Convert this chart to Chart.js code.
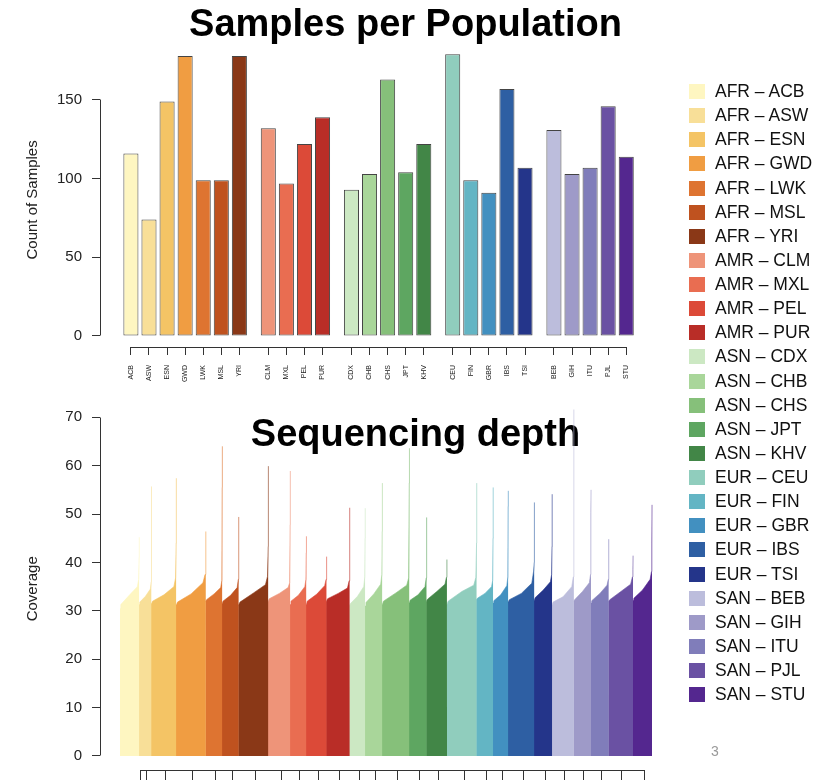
<!DOCTYPE html>
<html>
<head>
<meta charset="utf-8">
<title>Samples per Population</title>
<script src="https://cdn.jsdelivr.net/npm/chart.js@4.4.1/dist/chart.umd.min.js"></script>
<style>
  html, body { margin: 0; padding: 0; background: #fff; overflow: hidden; }
  #wrap { position: relative; width: 825px; height: 780px; font-family: "Liberation Sans", Arial, Helvetica, sans-serif; }
  canvas { position: absolute; left: 0; }
  #samplesChart { top: 0; }
  #depthChart { top: 390px; }
  #legend { position: absolute; left: 689px; top: 79px; margin: 0; padding: 0; list-style: none; }
  #legend li { height: 24.13px; line-height: 24.13px; font-size: 17.5px; color: #111; white-space: nowrap; }
  #legend .box { display: inline-block; width: 16px; height: 15px; vertical-align: -2px; margin-right: 10px; }
  #pageNo { position: absolute; left: 711px; top: 743px; font-size: 14px; color: #999; }
</style>
</head>
<body>
<div id="wrap">
  <canvas id="samplesChart" width="825" height="390"></canvas>
  <canvas id="depthChart" width="825" height="390"></canvas>
  <ul id="legend"></ul>
  <div id="pageNo">3</div>
</div>
<script>
// populations, in plotting order
var populations = ['ACB','ASW','ESN','GWD','LWK','MSL','YRI',
                   'CLM','MXL','PEL','PUR',
                   'CDX','CHB','CHS','JPT','KHV',
                   'CEU','FIN','GBR','IBS','TSI',
                   'BEB','GIH','ITU','PJL','STU'];
var regions = ['AFR','AFR','AFR','AFR','AFR','AFR','AFR',
               'AMR','AMR','AMR','AMR',
               'ASN','ASN','ASN','ASN','ASN',
               'EUR','EUR','EUR','EUR','EUR',
               'SAN','SAN','SAN','SAN','SAN'];
var sampleCounts = [116, 74, 149, 178, 99, 99, 178,
                    132, 97, 122, 139,
                    93, 103, 163, 104, 122,
                    179, 99, 91, 157, 107,
                    131, 103, 107, 146, 114];
var popColors = ['#FEF6C1','#F8DF98','#F4C465','#F09D42','#DE7431','#BF521F','#8A3817',
                 '#EE9479','#E96D51','#DC4A38','#B92D27',
                 '#CCE8C3','#A9D69A','#86C07A','#5EA661','#428647',
                 '#90CDBD','#63B5C4','#4290C0','#2E5FA3','#24358A',
                 '#BCBDDC','#9E9AC8','#807DBA','#6A51A3','#54278F'];

// sorted coverage per population, read at these fractions of the samples,
// then the next-to-last sample and the last (highest) sample
var depthFrac  = [0, 0.04, 0.5, 0.9, 0.97];
var depthStart = [30.5, 31.3, 31.5, 31.2, 31.8, 31.5, 31.0, 32.0, 31.3, 31.3, 31.8, 30.8, 31.0, 31.3, 31.6, 31.9, 30.9, 32.2, 31.6, 31.9, 32.2, 31.2, 31.9, 31.6, 31.9, 32.2];
var depthQ04   = [31.3, 31.8, 32.0, 31.8, 32.3, 32.0, 31.8, 32.5, 32.0, 32.0, 32.5, 31.5, 31.7, 32.0, 32.2, 32.4, 32.0, 32.6, 32.1, 32.3, 32.7, 31.8, 32.3, 32.1, 32.3, 32.6];
var depthMid   = [33.3, 33.0, 33.3, 33.5, 33.5, 33.2, 33.7, 33.6, 33.2, 33.4, 33.6, 33.0, 33.5, 33.7, 33.3, 34.0, 34.0, 33.6, 33.3, 33.6, 34.3, 32.9, 34.0, 33.6, 34.0, 34.3];
var depthP90   = [35.0, 34.5, 35.0, 35.8, 34.8, 34.8, 35.4, 34.8, 35.0, 35.2, 34.7, 35.0, 35.5, 35.3, 35.0, 35.5, 35.3, 35.0, 35.2, 35.7, 36.0, 35.0, 35.8, 35.3, 35.5, 36.5];
var depthP97   = [36.5, 36.0, 36.8, 37.5, 36.3, 36.5, 37.1, 35.8, 36.5, 36.5, 36.2, 37.0, 37.5, 36.8, 36.8, 36.9, 36.9, 36.3, 37.0, 38.2, 37.5, 37.0, 37.5, 36.5, 37.0, 38.1];
var depthNext  = [41.0, 42.5, 44.0, 43.0, 55.5, 44.7, 43.3, 47.8, 42.0, 38.5, 48.1, 45.0, 46.4, 56.4, 43.3, 38.5, 44.0, 45.0, 51.6, 40.0, 43.3, 47.0, 50.4, 40.5, 38.5, 44.0];
var depthMax   = [45.2, 55.7, 57.4, 46.4, 64.0, 49.4, 59.9, 58.9, 45.4, 41.2, 51.3, 51.2, 56.4, 63.6, 49.3, 40.6, 56.4, 55.5, 54.8, 52.4, 54.1, 71.6, 55.0, 44.8, 41.4, 51.9];

var countTicks = [0, 50, 100, 150];
var coverageTicks = [0, 10, 20, 30, 40, 50, 60, 70];
// bottom axis tick marks, in sample index units
var depthTicks = [125, 158, 274, 439, 575, 678, 817, 971, 1081, 1195, 1323, 1440, 1538,
                  1668, 1802, 1916, 2071, 2207, 2302, 2427, 2559, 2675, 2792, 2895, 3020, 3155];

var FONT = '"Liberation Sans", Arial, Helvetica, sans-serif';
Chart.defaults.font.family = FONT;
Chart.defaults.color = '#222';

// R style axis lines: only from first to last tick
var al = function (p) { return Math.round(p - 0.5) + 0.5; };
var rAxisLines = {
  id: 'rAxisLines',
  afterDraw: function (chart) {
    var ctx = chart.ctx, area = chart.chartArea, xs = chart.scales.x, ys = chart.scales.y;
    var xt = xs.ticks, yt = ys.ticks;
    ctx.save();
    ctx.strokeStyle = '#333';
    ctx.lineWidth = 1;
    ctx.beginPath();
    ctx.moveTo(al(area.left), al(ys.getPixelForValue(yt[0].value)));
    ctx.lineTo(al(area.left), al(ys.getPixelForValue(yt[yt.length - 1].value)));
    ctx.moveTo(al(xs.getPixelForValue(xt[0].value)), al(area.bottom));
    ctx.lineTo(al(xs.getPixelForValue(xt[xt.length - 1].value)), al(area.bottom));
    ctx.stroke();
    ctx.restore();
  }
};

// fixed axis sizes, no extra label padding around the plot area
function fixWidth(w) {
  return function (s) { s.width = w; s.paddingTop = 0; s.paddingBottom = 0; };
}
function fixHeight(h) {
  return function (s) { s.height = h; s.paddingLeft = 0; s.paddingRight = 0; };
}

// bar positions: one slot per population, extra gap between regions
var barX = [];
var grp = 0;
populations.forEach(function (p, i) {
  if (i > 0 && regions[i] !== regions[i - 1]) grp++;
  barX.push(i + 0.6 * grp);
});

var tickGrid = { display: true, offset: false, drawOnChartArea: false, drawTicks: true, tickLength: 8, color: '#333' };

var samplesChart = new Chart(document.getElementById('samplesChart'), {
  type: 'bar',
  data: {
    datasets: [{
      data: sampleCounts.map(function (v, i) { return { x: barX[i], y: v }; }),
      backgroundColor: popColors,
      borderColor: '#444',
      borderWidth: 1,
      borderSkipped: false,
      barPercentage: 0.833,
      categoryPercentage: 1.0
    }]
  },
  options: {
    responsive: false,
    animation: false,
    layout: { padding: { left: 0, right: 14, top: 0, bottom: 0 }, autoPadding: false },
    plugins: {
      legend: { display: false },
      tooltip: { enabled: false },
      title: {
        display: true,
        text: 'Samples per Population',
        color: '#000',
        font: { size: 38, weight: 'bold', family: FONT },
        padding: { top: 3, bottom: 4.2 }
      }
    },
    scales: {
      x: {
        type: 'linear',
        min: -1.71,
        max: 37.62,
        offset: false,
        grid: tickGrid,
        border: { display: false },
        afterBuildTicks: function (s) { s.ticks = barX.map(function (v) { return { value: v }; }); },
        afterFit: fixHeight(43),
        ticks: {
          autoSkip: false,
          minRotation: 90,
          maxRotation: 90,
          padding: 10,
          font: { size: 7 },
          color: '#222',
          callback: function (v, i) { return populations[i]; }
        }
      },
      y: {
        min: -7,
        max: 180,
        grid: tickGrid,
        border: { display: false },
        afterBuildTicks: function (s) { s.ticks = countTicks.map(function (v) { return { value: v }; }); },
        afterFit: fixWidth(100),
        ticks: { padding: 10, font: { size: 15 }, color: '#222' },
        title: { display: true, text: 'Count of Samples', color: '#222', font: { size: 15 }, padding: { top: 23.5, bottom: 0 } }
      }
    }
  },
  plugins: [rAxisLines]
});

// bottom panel: coverage of every population, sorted, as filled areas
function fade(hex, a) {
  var n = parseInt(hex.slice(1), 16);
  return 'rgba(' + (n >> 16) + ',' + ((n >> 8) & 255) + ',' + (n & 255) + ',' + a + ')';
}
var offset = 0;
var depthSets = populations.map(function (p, i) {
  var n = sampleCounts[i];
  var ys = [depthStart[i], depthQ04[i], depthMid[i], depthP90[i], depthP97[i]];
  var pts = depthFrac.map(function (f, k) { return { x: offset + f * n, y: ys[k] }; });
  // slip a few samples under the previous area so no seam shows
  if (i > 0) pts.unshift({ x: offset - 4, y: depthStart[i] });
  pts.push({ x: offset + n - 1, y: depthNext[i] });
  pts.push({ x: offset + n, y: depthMax[i] });
  offset += n;
  return {
    label: p,
    data: pts,
    backgroundColor: popColors[i],
    borderColor: fade(popColors[i], 0.6),
    borderWidth: 1,
    fill: 'origin',
    pointRadius: 0,
    tension: 0
  };
});

var depthChart = new Chart(document.getElementById('depthChart'), {
  type: 'line',
  data: { datasets: depthSets },
  options: {
    responsive: false,
    animation: false,
    layout: { padding: { left: 6, right: 0, top: 0, bottom: 0 }, autoPadding: false },
    plugins: {
      legend: { display: false },
      tooltip: { enabled: false },
      title: {
        display: true,
        text: 'Sequencing depth',
        color: '#000',
        font: { size: 38, weight: 'bold', family: FONT },
        padding: { top: 23, bottom: -51 }
      }
    },
    scales: {
      x: {
        type: 'linear',
        min: -120.4,
        max: 4243,
        grid: { display: true, offset: false, drawOnChartArea: false, drawTicks: true, tickLength: 14, color: '#333' },
        border: { display: false },
        afterBuildTicks: function (s) { s.ticks = depthTicks.map(function (v) { return { value: v }; }); },
        afterFit: fixHeight(10),
        ticks: { display: false, autoSkip: false }
      },
      y: {
        min: -2.897,
        max: 72,
        grid: tickGrid,
        border: { display: false },
        afterBuildTicks: function (s) { s.ticks = coverageTicks.map(function (v) { return { value: v }; }); },
        afterFit: fixWidth(94),
        ticks: { padding: 10, font: { size: 15 }, color: '#222' },
        title: { display: true, text: 'Coverage', color: '#222', font: { size: 15 }, padding: { top: 17.5, bottom: 0 } }
      }
    }
  },
  plugins: [rAxisLines]
});

// shared legend
var legend = document.getElementById('legend');
populations.forEach(function (p, i) {
  var li = document.createElement('li');
  var box = document.createElement('span');
  box.className = 'box';
  box.style.background = popColors[i];
  li.appendChild(box);
  li.appendChild(document.createTextNode(regions[i] + ' \u2013 ' + p));
  legend.appendChild(li);
});
</script>
</body>
</html>
